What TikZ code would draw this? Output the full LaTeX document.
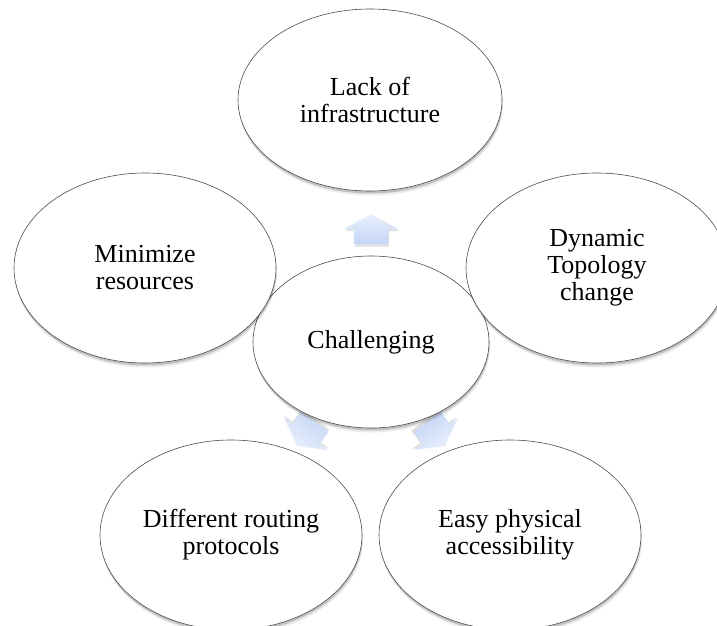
\documentclass[tikz,border=0pt]{standalone}
\usepackage{fontspec}
\setmainfont{Liberation Serif}
\usetikzlibrary{shapes.geometric,shadows}
\definecolor{arrowlight}{HTML}{EAF0FC}
\definecolor{arrowblue}{HTML}{C4D5F6}
\tikzset{
  bub/.style={ellipse, draw=black!70, line width=0.6pt, fill=white, inner sep=0pt,
    align=center, font=\fontsize{26}{27}\selectfont,
    general shadow={fill=black, opacity=0.08, shadow yshift=-4.5pt, shadow xshift=1pt},
    general shadow={fill=black, opacity=0.18, shadow yshift=-2.5pt, shadow xshift=0.5pt}},
  outer/.style={bub, minimum width=262pt, minimum height=190pt},
}
\newcommand{\blockarrow}[2]{%
  \begin{scope}[shift={(#1)}, rotate=#2]
    \fill[black, opacity=0.12] (-16,-17.5) -- (18,-17.5) -- (18,-2) -- (28,-2) -- (1,13) -- (-26,-2) -- (-16,-2) -- cycle;
    \path[top color=arrowlight, bottom color=arrowblue, shading angle=#2]
      (-17,-15) -- (17,-15) -- (17,0) -- (27,0) -- (0,15) -- (-27,0) -- (-17,0) -- cycle;
  \end{scope}}
\begin{document}
\begin{tikzpicture}[x=1pt, y=1pt]
  \useasboundingbox (0,0) rectangle (717,-626);
  \clip (0,0) rectangle (717,-626);
  \coordinate (aup) at (371,-229);
  \coordinate (aleft) at (306,-434);
  \coordinate (aright) at (436,-434);
  \blockarrow{aup}{0}
  \blockarrow{aleft}{144}
  \blockarrow{aright}{-144}
  \node[bub, minimum width=236pt, minimum height=172pt] (c) at (371,-342) {Challenging};
  \node[bub, minimum width=264pt, minimum height=182pt] (t) at (370,-100) {Lack of\\infrastructure};
  \node[outer] (l) at (145,-268) {Minimize\\resources};
  \node[outer] (r) at (597,-268) {Dynamic\\Topology\\change};
  \node[outer] (bl) at (231,-535) {Different routing\\protocols};
  \node[outer] (br) at (510,-535) {Easy physical\\accessibility};
\end{tikzpicture}
\end{document}
